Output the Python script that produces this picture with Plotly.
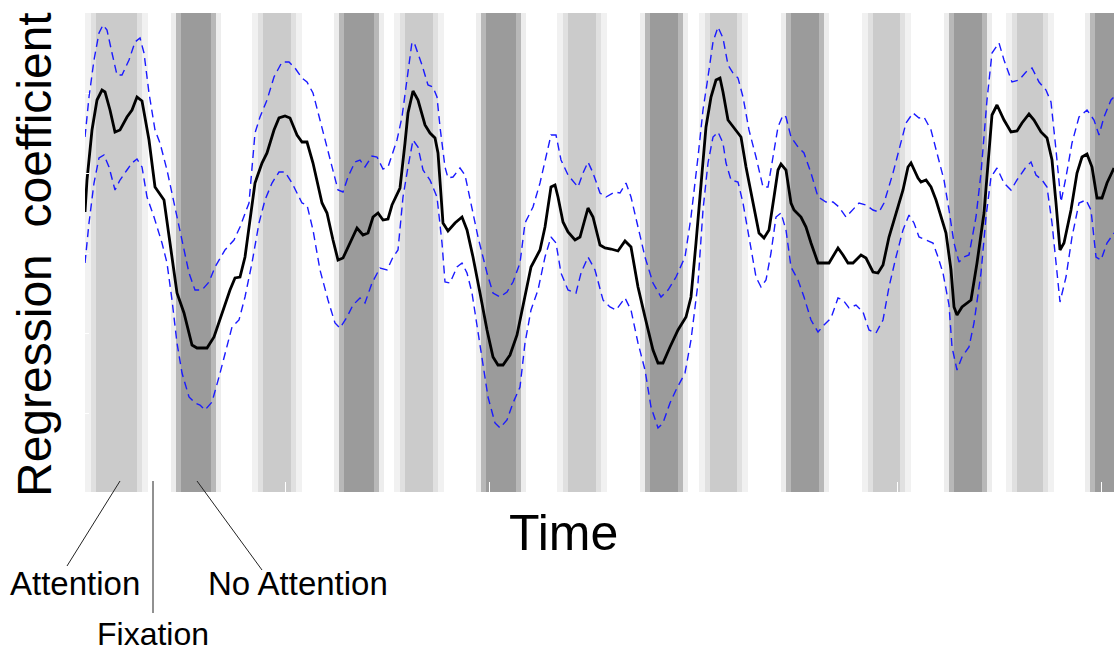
import plotly.graph_objects as go

# ---- data (time in samples, coefficient in arbitrary units) ----
t_mean = [85, 87, 92, 97, 102, 105, 110, 115, 120, 127, 132, 137, 142, 149, 155, 164, 170, 177, 184, 192, 197, 207, 214, 222, 230, 235, 240, 245, 250, 255, 262, 267, 274, 279, 285, 290, 297, 302, 307, 313, 322, 327, 333, 338, 343, 350, 357, 363, 368, 373, 378, 383, 388, 392, 400, 405, 408, 413, 418, 425, 430, 435, 438, 443, 448, 455, 462, 467, 473, 480, 487, 493, 498, 503, 510, 517, 525, 531, 540, 545, 551, 555, 558, 563, 568, 575, 580, 585, 588, 593, 600, 605, 611, 618, 625, 631, 638, 645, 653, 658, 663, 670, 678, 686, 691, 696, 701, 706, 711, 716, 720, 723, 728, 733, 741, 746, 753, 759, 764, 769, 774, 778, 781, 786, 791, 794, 801, 806, 811, 818, 829, 834, 838, 843, 848, 853, 861, 866, 873, 878, 883, 889, 896, 903, 908, 911, 918, 921, 926, 931, 936, 941, 946, 951, 954, 957, 962, 971, 977, 984, 989, 992, 997, 1004, 1011, 1017, 1022, 1029, 1034, 1041, 1047, 1052, 1056, 1060, 1064, 1071, 1077, 1082, 1087, 1092, 1097, 1102, 1107, 1114]
v_mean = [288, 320, 370, 400, 410, 408, 390, 368, 370, 383, 390, 403, 399, 360, 313, 300, 257, 207, 187, 155, 152, 152, 163, 187, 210, 222, 223, 243, 280, 317, 337, 347, 370, 382, 384, 382, 365, 358, 358, 337, 297, 287, 260, 240, 242, 257, 272, 265, 267, 283, 287, 280, 281, 295, 312, 357, 387, 409, 400, 375, 367, 362, 347, 277, 269, 277, 283, 270, 243, 207, 170, 143, 135, 135, 145, 165, 203, 233, 250, 273, 313, 315, 303, 278, 268, 260, 263, 283, 292, 283, 255, 252, 251, 249, 259, 253, 213, 183, 150, 137, 137, 153, 170, 183, 203, 257, 313, 373, 403, 420, 422, 408, 380, 373, 363, 333, 297, 267, 262, 270, 303, 330, 336, 330, 297, 290, 283, 273, 257, 237, 237, 245, 252, 245, 237, 237, 245, 242, 228, 227, 235, 263, 287, 310, 333, 337, 322, 318, 320, 313, 300, 283, 267, 230, 193, 185, 193, 200, 237, 287, 343, 385, 395, 380, 368, 369, 377, 386, 380, 368, 362, 340, 297, 250, 257, 290, 327, 343, 346, 333, 302, 302, 317, 332]

t_upper = [85, 89, 94, 99, 103, 107, 112, 117, 122, 129, 135, 140, 144, 149, 155, 160, 167, 174, 182, 189, 195, 202, 209, 215, 225, 234, 240, 249, 255, 260, 267, 274, 282, 289, 295, 302, 307, 313, 320, 328, 333, 338, 343, 348, 355, 360, 365, 372, 377, 383, 388, 397, 402, 407, 412, 415, 422, 428, 433, 437, 440, 445, 448, 453, 460, 465, 472, 478, 487, 493, 500, 507, 513, 520, 525, 533, 540, 546, 551, 556, 561, 568, 578, 583, 588, 593, 600, 606, 615, 620, 626, 631, 638, 645, 653, 661, 668, 676, 685, 691, 698, 703, 708, 713, 718, 723, 728, 733, 738, 743, 749, 756, 763, 768, 773, 778, 783, 786, 791, 798, 804, 811, 818, 826, 833, 839, 846, 853, 859, 866, 873, 879, 884, 893, 899, 906, 913, 919, 924, 931, 938, 944, 949, 954, 959, 964, 969, 976, 981, 987, 992, 999, 1004, 1012, 1019, 1026, 1032, 1039, 1046, 1051, 1056, 1061, 1066, 1072, 1079, 1087, 1094, 1099, 1104, 1111, 1114]
v_upper = [363, 403, 440, 467, 475, 470, 447, 425, 425, 440, 458, 462, 447, 407, 370, 357, 330, 297, 260, 227, 210, 210, 218, 233, 250, 260, 273, 297, 367, 383, 400, 423, 438, 438, 432, 422, 418, 407, 380, 350, 330, 310, 308, 323, 338, 340, 333, 344, 343, 331, 333, 360, 383, 423, 458, 455, 435, 415, 413, 403, 373, 333, 322, 323, 332, 325, 293, 263, 227, 207, 203, 208, 218, 237, 277, 293, 317, 343, 365, 365, 340, 325, 313, 327, 338, 327, 307, 303, 308, 307, 317, 303, 273, 243, 217, 203, 210, 223, 243, 283, 343, 390, 423, 458, 473, 462, 435, 427, 422, 403, 370, 343, 313, 313, 343, 373, 385, 383, 363, 353, 347, 327, 303, 298, 298, 293, 283, 290, 297, 295, 290, 288, 297, 327, 350, 377, 387, 382, 383, 370, 343, 320, 290, 257, 238, 243, 245, 283, 327, 400, 447, 457, 440, 418, 420, 428, 432, 418, 410, 398, 350, 298, 323, 357, 383, 390, 380, 365, 383, 400, 403]

t_lower = [85, 89, 94, 99, 104, 109, 115, 120, 127, 132, 137, 142, 147, 154, 162, 167, 172, 177, 182, 189, 195, 200, 205, 212, 219, 225, 232, 239, 245, 252, 259, 265, 272, 279, 285, 292, 299, 302, 307, 313, 320, 328, 335, 340, 347, 353, 360, 365, 372, 380, 387, 393, 398, 403, 408, 413, 418, 423, 430, 437, 442, 445, 450, 457, 462, 467, 472, 477, 483, 488, 495, 500, 507, 513, 520, 525, 531, 538, 545, 551, 556, 561, 568, 576, 581, 588, 595, 603, 610, 616, 625, 631, 638, 645, 651, 658, 663, 670, 676, 685, 691, 698, 703, 708, 713, 718, 723, 726, 731, 738, 743, 749, 756, 761, 766, 771, 776, 781, 786, 791, 798, 804, 811, 818, 824, 831, 838, 843, 849, 856, 863, 869, 876, 883, 889, 896, 903, 909, 914, 919, 926, 933, 938, 943, 949, 952, 957, 962, 969, 974, 981, 986, 991, 997, 1004, 1011, 1017, 1026, 1031, 1036, 1042, 1047, 1052, 1057, 1060, 1066, 1072, 1079, 1086, 1091, 1096, 1101, 1107, 1114]
v_lower = [237, 277, 317, 342, 345, 333, 310, 320, 330, 337, 341, 333, 303, 283, 257, 237, 200, 157, 127, 103, 97, 95, 90, 98, 123, 147, 173, 180, 203, 237, 277, 300, 317, 328, 328, 317, 303, 297, 295, 270, 230, 200, 177, 172, 183, 195, 202, 197, 217, 232, 230, 243, 250, 303, 333, 360, 353, 330, 320, 303, 257, 218, 217, 233, 237, 227, 207, 173, 137, 103, 77, 72, 80, 97, 113, 157, 190, 210, 243, 263, 257, 227, 210, 207, 227, 243, 230, 200, 193, 190, 202, 190, 157, 130, 93, 72, 77, 97, 110, 127, 160, 217, 290, 337, 363, 368, 357, 337, 320, 318, 297, 263, 223, 213, 220, 247, 283, 287, 270, 233, 220, 203, 180, 168, 175, 182, 202, 200, 192, 195, 188, 170, 167, 180, 213, 243, 270, 285, 277, 263, 260, 257, 243, 227, 195, 153, 130, 143, 153, 177, 227, 283, 323, 332, 317, 310, 320, 333, 338, 325, 320, 313, 277, 223, 198, 223, 263, 297, 300, 290, 243, 240, 257, 267]

# condition blocks (onset, offset, condition); gaps between blocks are fixation
block_onset = [85, 171, 252, 334, 394, 476, 557, 640, 699, 781, 862, 944, 1006, 1085]
block_offset = [148, 221, 302, 384, 444, 526, 607, 688, 748, 829, 911, 992, 1054, 1135]
block_cond = ["Attention", "No Attention"] * 7

X_RANGE = [85, 1114]
Y_RANGE = [8, 487]

fig = go.Figure()

# block shading
layers = {
    "Attention": [(0, "#f1f1f1"), (6, "#e0e0e0"), (11, "#cbcbcb")],
    "No Attention": [(0, "#ededed"), (5, "#b8b8b8"), (10, "#9b9b9b")],
}
shapes = []
for a, b, c in zip(block_onset, block_offset, block_cond):
    for inset, col in layers[c]:
        shapes.append(dict(type="rect", xref="x", yref="paper", x0=a + inset, x1=b - inset,
                           y0=0, y1=1, fillcolor=col, line=dict(width=0), layer="below"))

fig.add_trace(go.Scatter(x=t_upper, y=v_upper, mode="lines",
                         line=dict(color="#1a1aff", width=1.4, dash="8px,5px"), hoverinfo="skip"))
fig.add_trace(go.Scatter(x=t_lower, y=v_lower, mode="lines",
                         line=dict(color="#1a1aff", width=1.4, dash="8px,5px"), hoverinfo="skip"))
fig.add_trace(go.Scatter(x=t_mean, y=v_mean, mode="lines",
                         line=dict(color="black", width=2.8), hoverinfo="skip"))

L, R, T, B = 85, 0, 13, 161
W, H = 1114, 653
pw, ph = W - L - R, H - T - B


def px(xp):
    return (xp - L) / pw


def py(yp):
    return (H - B - yp) / ph


# pointer lines
for (x0, y0, x1, y1) in [(120, 481, 67, 566), (153, 481, 153, 613), (197, 481, 262, 570)]:
    shapes.append(dict(type="line", xref="paper", yref="paper", x0=px(x0), y0=py(y0),
                       x1=px(x1), y1=py(y1), line=dict(color="#222222", width=1)))

font = "Liberation Sans, Arial, Helvetica, sans-serif"


def label(text, x, y, size, angle=0):
    return dict(text=text, x=px(x), y=py(y), xref="paper", yref="paper",
                xanchor="center", yanchor="middle", textangle=angle, showarrow=False,
                borderpad=0, font=dict(family=font, size=size, color="black"))


annotations = [
    label("Regression  coefficient", 35, 255, 48, -90),
    label("Time", 563, 533, 50),
    label("Attention", 75, 583, 33),
    label("No Attention", 298, 583, 33),
    label("Fixation", 153, 634, 32),
]

fig.update_layout(
    width=W, height=H, margin=dict(l=L, r=R, t=T, b=B, pad=0),
    paper_bgcolor="white", plot_bgcolor="white", showlegend=False,
    shapes=shapes, annotations=annotations,
    xaxis=dict(range=X_RANGE, showgrid=False, zeroline=False, showline=False,
               tickvals=[285, 489, 693, 897, 1101], ticks="inside", ticklen=10,
               tickcolor="white", tickwidth=1, showticklabels=False, fixedrange=True),
    yaxis=dict(range=Y_RANGE, showgrid=False, zeroline=False, showline=False,
               tickvals=[87, 167, 247, 327, 407], ticks="inside", ticklen=4,
               tickcolor="white", showticklabels=False, fixedrange=True),
)

fig.write_html("out.html", config={"displayModeBar": False},
               post_script="document.body.style.margin='0';document.body.style.overflow='hidden';")
